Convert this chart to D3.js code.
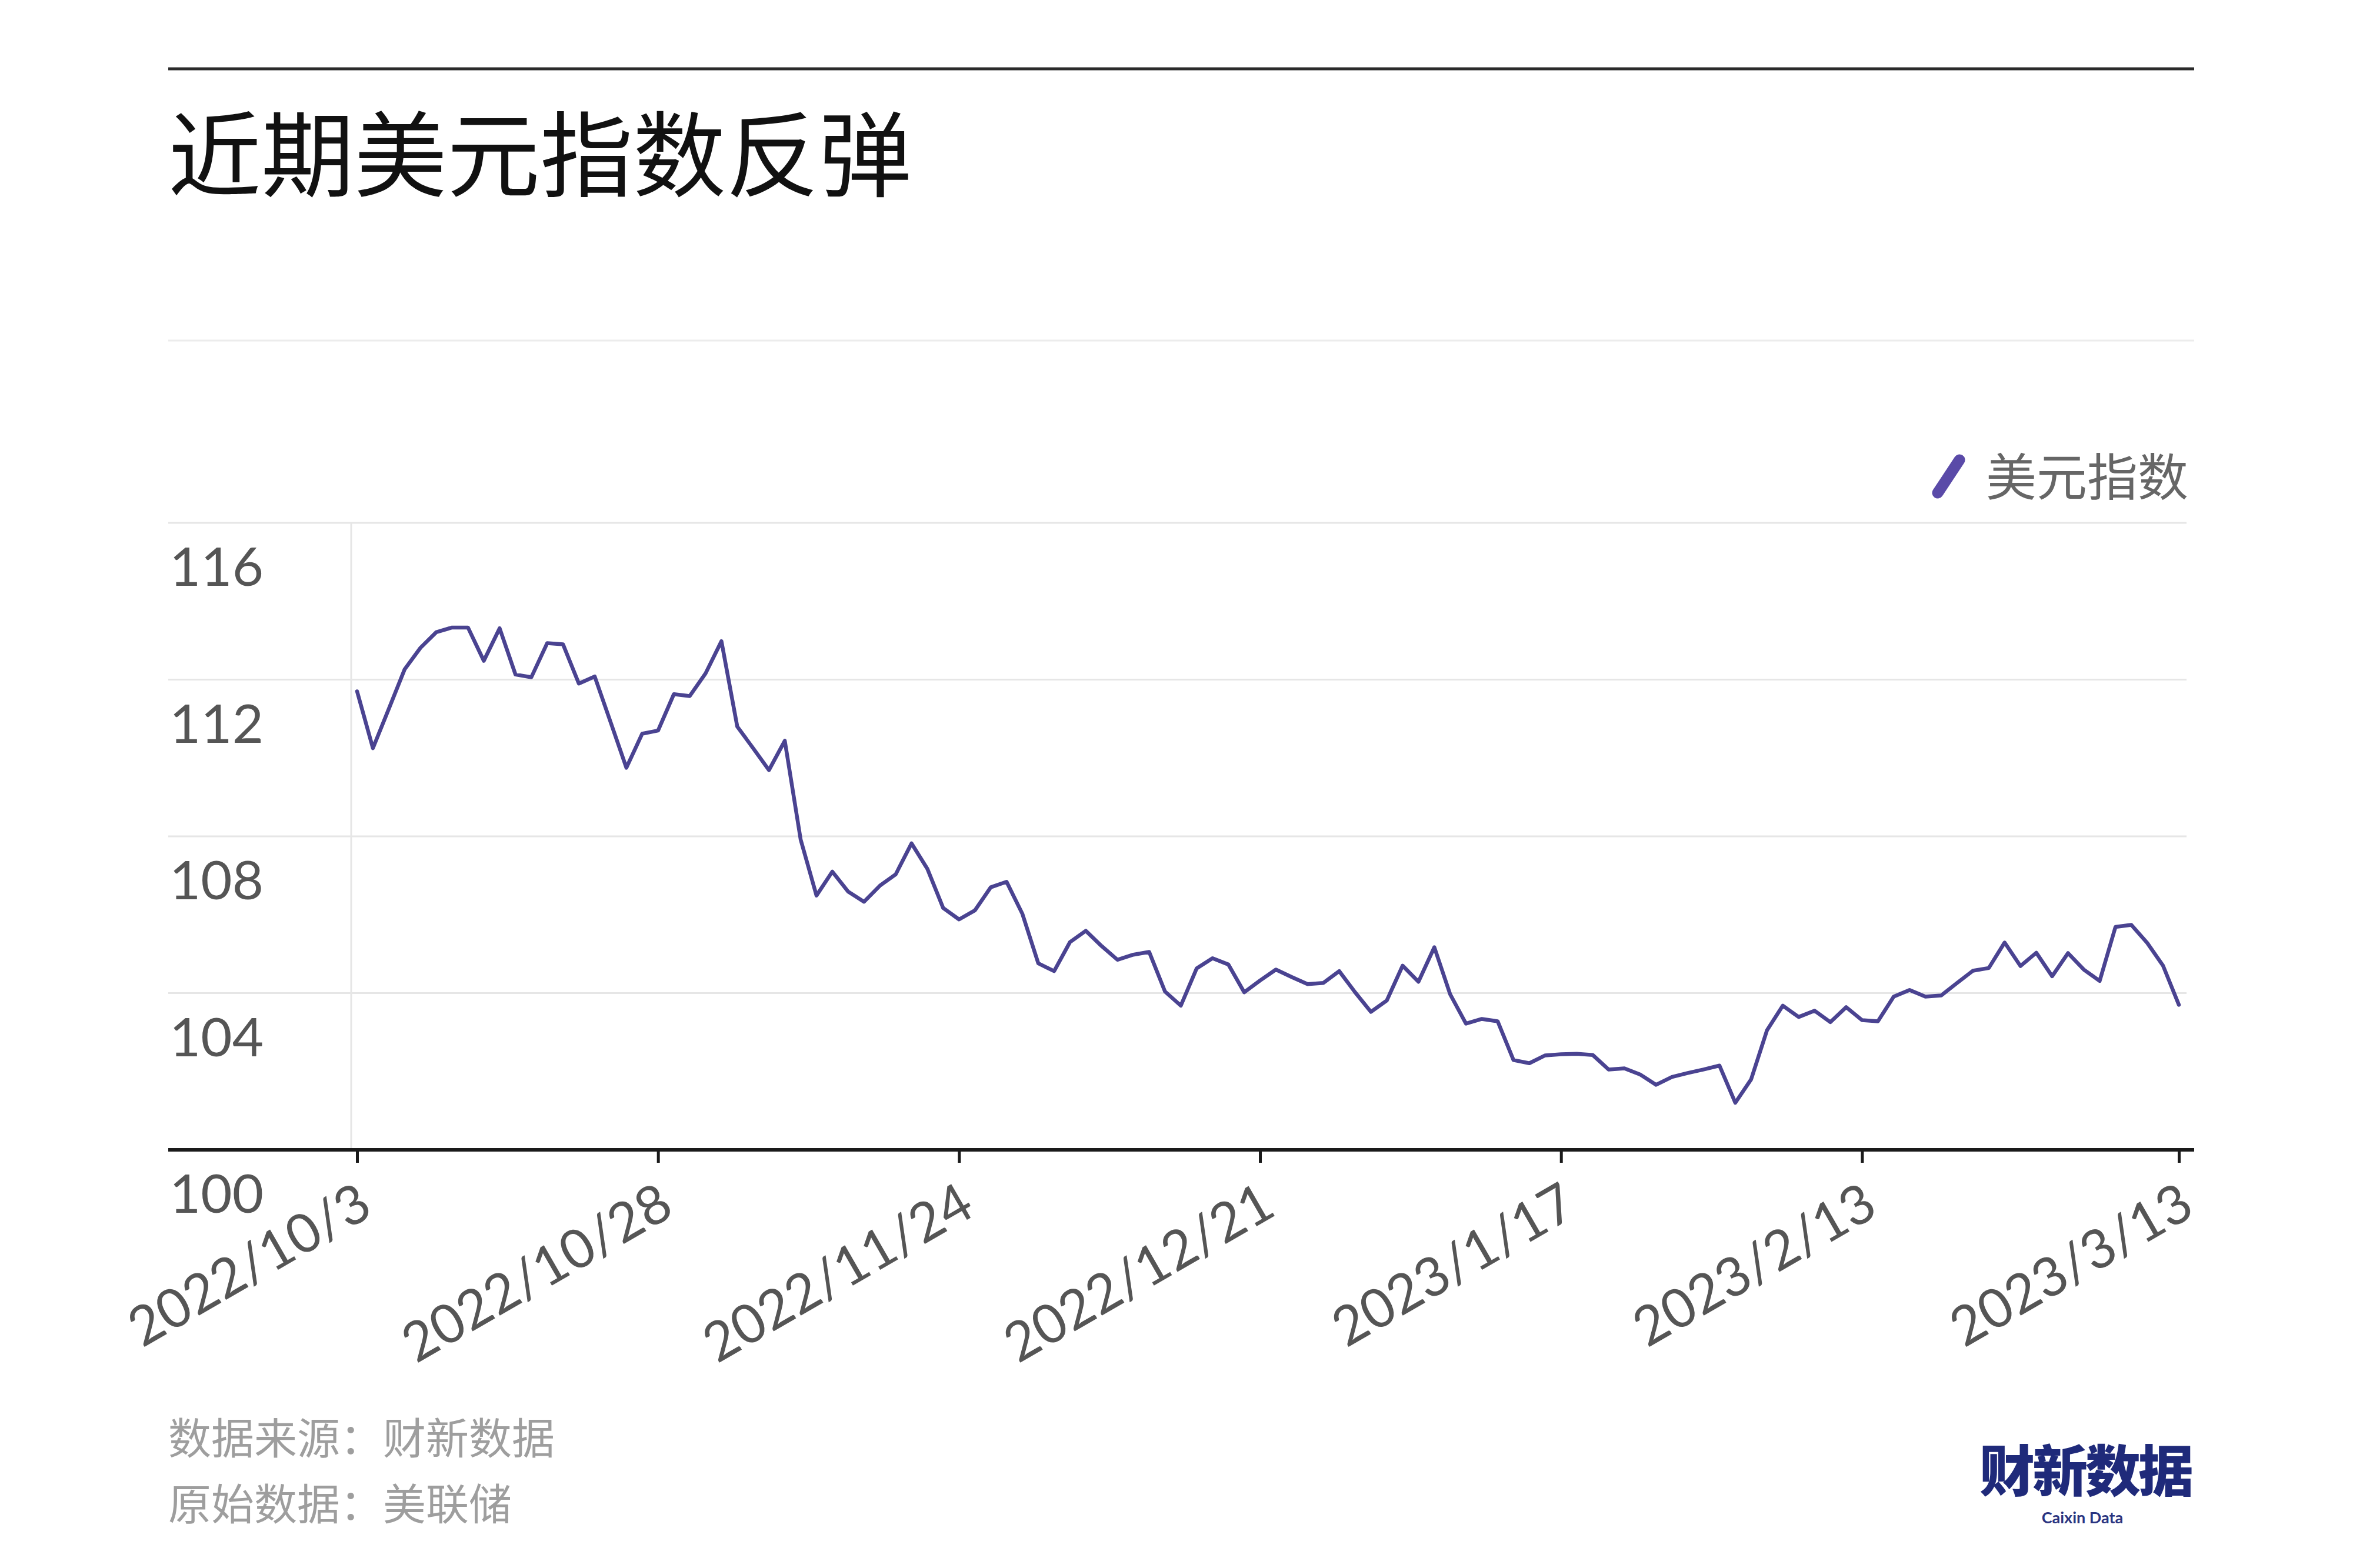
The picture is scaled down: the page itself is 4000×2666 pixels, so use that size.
<!DOCTYPE html>
<html><head><meta charset="utf-8">
<script src="https://cdn.jsdelivr.net/npm/d3@7/dist/d3.min.js"></script>
<style>body{margin:0;background:#fff}svg{display:block}</style>
</head><body>
<svg id="chart" width="4000" height="2666"></svg>
<script>
// ---- data ----
const dates = [
"2022/10/3","2022/10/4","2022/10/5","2022/10/6","2022/10/7","2022/10/10","2022/10/11","2022/10/12","2022/10/13","2022/10/14",
"2022/10/17","2022/10/18","2022/10/19","2022/10/20","2022/10/21","2022/10/24","2022/10/25","2022/10/26","2022/10/27","2022/10/28","2022/10/31",
"2022/11/1","2022/11/2","2022/11/3","2022/11/4","2022/11/7","2022/11/8","2022/11/9","2022/11/10","2022/11/11","2022/11/14","2022/11/15",
"2022/11/16","2022/11/17","2022/11/18","2022/11/21","2022/11/22","2022/11/23","2022/11/24","2022/11/25","2022/11/28","2022/11/29","2022/11/30",
"2022/12/1","2022/12/2","2022/12/5","2022/12/6","2022/12/7","2022/12/8","2022/12/9","2022/12/12","2022/12/13","2022/12/14","2022/12/15",
"2022/12/16","2022/12/19","2022/12/20","2022/12/21","2022/12/22","2022/12/23","2022/12/26","2022/12/27","2022/12/28","2022/12/29","2022/12/30",
"2023/1/2","2023/1/3","2023/1/4","2023/1/5","2023/1/6","2023/1/9","2023/1/10","2023/1/11","2023/1/12","2023/1/13","2023/1/16",
"2023/1/17","2023/1/18","2023/1/19","2023/1/20","2023/1/23","2023/1/24","2023/1/25","2023/1/26","2023/1/27","2023/1/30","2023/1/31",
"2023/2/1","2023/2/2","2023/2/3","2023/2/6","2023/2/7","2023/2/8","2023/2/9","2023/2/10","2023/2/13","2023/2/14","2023/2/15",
"2023/2/16","2023/2/17","2023/2/20","2023/2/21","2023/2/22","2023/2/23","2023/2/24","2023/2/27","2023/2/28",
"2023/3/1","2023/3/2","2023/3/3","2023/3/6","2023/3/7","2023/3/8","2023/3/9","2023/3/10","2023/3/13"
];
const dxyValues = [
111.70,110.25,111.25,112.26,112.81,113.21,113.33,113.33,112.48,113.31,
112.13,112.06,112.93,112.90,111.90,112.08,110.92,109.75,110.62,110.70,111.63,
111.58,112.16,112.98,110.80,110.25,109.69,110.44,107.92,106.49,107.10,106.59,
106.33,106.74,107.03,107.82,107.17,106.17,105.88,106.11,106.70,106.84,106.02,
104.76,104.56,105.30,105.59,105.20,104.85,104.98,105.05,104.04,103.68,104.63,
104.89,104.73,104.02,104.32,104.60,104.41,104.23,104.26,104.56,104.02,103.52,
103.81,104.70,104.29,105.17,103.97,103.22,103.34,103.28,102.29,102.21,102.41,
102.44,102.45,102.42,102.05,102.08,101.92,101.66,101.86,101.96,102.05,102.15,
101.20,101.80,103.05,103.68,103.39,103.55,103.26,103.64,103.31,103.28,103.91,
104.08,103.91,103.94,104.26,104.57,104.64,105.29,104.69,105.03,
104.43,105.02,104.60,104.31,105.69,105.74,105.28,104.70,103.70
];
const xTickLabels = ["2022/10/3","2022/10/28","2022/11/24","2022/12/21","2023/1/17","2023/2/13","2023/3/13"];
const yTickValues = [100,104,108,112,116];
const titleText = "近期美元指数反弹";
const seriesName = "美元指数";
const sourceLines = ["数据来源：财新数据","原始数据：美联储"];
const logoText = "财新数据";
const logoSub = "Caixin Data";

// ---- layout ----
const svg = d3.select("#chart");
const cjk = "'Noto Sans CJK SC','Noto Sans',sans-serif";
const num = "Lato,'Noto Sans',sans-serif";
const lineColor = "#4a4391";

const x = d3.scalePoint().domain(dates).range([607, 3704]);
const y = d3.scaleLinear().domain([100, 116]).range([1955, 889]);

svg.append("rect").attr("width",4000).attr("height",2666).attr("fill","#fff");

// top rule
svg.append("line").attr("x1",286).attr("x2",3730).attr("y1",117).attr("y2",117)
  .attr("stroke","#2b2b2b").attr("stroke-width",5);

// title
svg.append("text").attr("x",286).attr("y",322).text(titleText)
  .attr("font-family",cjk).attr("font-size",158).attr("fill","#111");

// light separator
svg.append("line").attr("x1",286).attr("x2",3730).attr("y1",579).attr("y2",579)
  .attr("stroke","#ececec").attr("stroke-width",3);

// gridlines
svg.append("g").selectAll("line").data(yTickValues.filter(d=>d>100)).join("line")
  .attr("x1",286).attr("x2",3717).attr("y1",d=>y(d)).attr("y2",d=>y(d))
  .attr("stroke","#e6e6e6").attr("stroke-width",3);
// vertical gridline
svg.append("line").attr("x1",597).attr("x2",597).attr("y1",y(116)).attr("y2",y(100))
  .attr("stroke","#e6e6e6").attr("stroke-width",3);

// y labels (below gridlines)
svg.append("g").selectAll("text").data(yTickValues).join("text")
  .attr("x",288).attr("y",d=>y(d)+107).text(d=>d)
  .attr("font-family",num).attr("font-size",92).attr("fill","#555");

// line
const line = d3.line().x((d,i)=>x(dates[i])).y(d=>y(d));
svg.append("path").datum(dxyValues).attr("d",line)
  .attr("fill","none").attr("stroke",lineColor).attr("stroke-width",6.5)
  .attr("stroke-linejoin","round").attr("stroke-linecap","round");

// x axis
svg.append("line").attr("x1",286).attr("x2",3730).attr("y1",1955).attr("y2",1955)
  .attr("stroke","#1a1a1a").attr("stroke-width",6);
const xAxis = d3.axisBottom(x).tickValues(xTickLabels).tickSize(22).tickPadding(0).tickFormat(d=>d);
const gx = svg.append("g").attr("transform","translate(0,1955)").call(xAxis);
gx.select(".domain").remove();
gx.selectAll(".tick line").attr("stroke","#1a1a1a").attr("stroke-width",5);
gx.selectAll(".tick text")
  .attr("font-family",num).attr("font-size",92).attr("fill","#555")
  .attr("text-anchor","end").attr("dy",null)
  .attr("transform","translate(30,109) rotate(-30)")
  .attr("y",0).attr("x",0);

// legend
svg.append("line").attr("x1",3294).attr("x2",3331).attr("y1",838).attr("y2",782)
  .attr("stroke","#5a4aa8").attr("stroke-width",19).attr("stroke-linecap","round");
svg.append("text").attr("x",3720).attr("y",843).attr("text-anchor","end").text(seriesName)
  .attr("font-family",cjk).attr("font-size",86).attr("fill","#666");

// footer
svg.append("g").selectAll("text").data(sourceLines).join("text")
  .attr("x",286).attr("y",(d,i)=>2472+i*112).text(d=>d)
  .attr("font-family",cjk).attr("font-size",73).attr("fill","#9e9e9e");

// logo
svg.append("text").attr("x",3725).attr("y",2536).attr("text-anchor","end").text(logoText)
  .attr("font-family",cjk).attr("font-weight",900).attr("font-size",94).attr("fill","#1f2a7a")
  .attr("letter-spacing",-4);
svg.append("text").attr("x",3540).attr("y",2590).attr("text-anchor","middle").text(logoSub)
  .attr("font-family","Lato,sans-serif").attr("font-weight",700).attr("font-size",27).attr("fill","#2a3480");
</script>
</body></html>
